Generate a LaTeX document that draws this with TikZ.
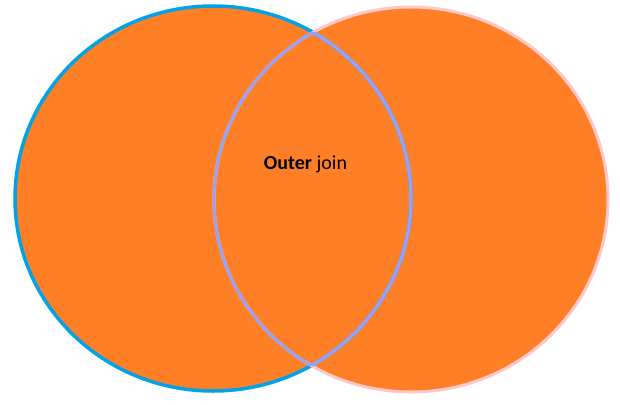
\documentclass[tikz,border=0pt]{standalone}
\usepackage{fontspec}
\setmainfont{Carlito}
\definecolor{joinorange}{RGB}{255,127,39}
\definecolor{leftblue}{RGB}{0,162,232}
\definecolor{rightpink}{RGB}{255,200,200}
\definecolor{overlapline}{RGB}{150,162,250}
\begin{document}
\begin{tikzpicture}[x=1pt,y=-1pt]
\useasboundingbox (0,0) rectangle (620,404);
%sets
\fill[joinorange](213,198.5) ellipse [x radius=198,y radius=192.5];
\fill[joinorange](411,199.5) ellipse [x radius=197,y radius=192.5];
%outlines
\draw[leftblue,line width=3.5pt](213,198.5) ellipse [x radius=198,y radius=192.5];
\draw[rightpink,line width=3pt](411,199.5) ellipse [x radius=197,y radius=192.5];
\begin{scope}
\clip(213,198.5) ellipse [x radius=198,y radius=192.5];
\draw[overlapline,line width=3pt](411,199.5) ellipse [x radius=197,y radius=192.5];
\end{scope}
\begin{scope}
\clip(411,199.5) ellipse [x radius=197,y radius=192.5];
\draw[overlapline,line width=3.5pt](213,198.5) ellipse [x radius=198,y radius=192.5];
\end{scope}
%label
\node[font=\fontsize{20}{24}\selectfont,anchor=base,inner sep=0pt](label)at(305.5,169){\textbf{Outer} join};
\end{tikzpicture}
\end{document}
